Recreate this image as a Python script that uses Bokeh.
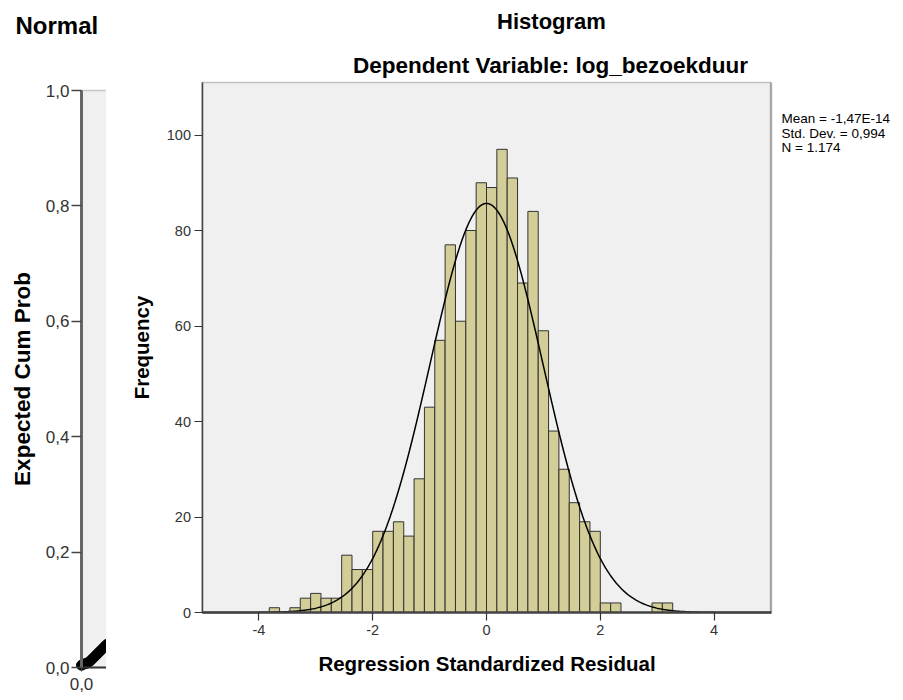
import numpy as np
from bokeh.plotting import figure
from bokeh.models import Range1d, FixedTicker, Label, BoxAnnotation
from bokeh.layouts import row
from bokeh.embed import file_html
from bokeh.resources import INLINE

# ---------------- data ----------------
bin_width = 2 / 11
bin_index = list(range(-21, 18))
frequency = [1, 0, 1, 3, 4, 3, 3, 12, 9, 9, 17, 17, 19, 16, 28, 43, 57, 77,
             61, 80, 90, 89, 97, 91, 69, 84, 59, 38, 30, 23, 19, 17, 2, 2,
             0, 0, 0, 2, 2]
mean_val = -1.47e-14
sd_val = 0.994
n_val = 1174
stats_lines = ["Mean = -1,47E-14", "Std. Dev. = 0,994", "N = 1.174"]
hist_x_ticks = [-4, -2, 0, 2, 4]
hist_x_labels = ["-4", "-2", "0", "2", "4"]
hist_y_ticks = [0, 20, 40, 60, 80, 100]
hist_x_limits = (-5, 5)
hist_y_limits = (0, 111)

pp_expected = [0.000, 0.004, 0.008, 0.012, 0.016, 0.020, 0.024, 0.028, 0.032, 0.036, 0.040, 0.044]
pp_observed = [0.004, 0.006, 0.007, 0.009, 0.012, 0.016, 0.020, 0.024, 0.028, 0.032, 0.036, 0.040]
pp_y_ticks = [0.0, 0.2, 0.4, 0.6, 0.8, 1.0]
pp_y_labels = ["0,0", "0,2", "0,4", "0,6", "0,8", "1,0"]

FONT = "Liberation Sans"

# ---------------- page geometry (pixels) ----------------
W, H = 903, 700
SPLIT = 106                      # where the histogram chart starts
PP_X0, PP_SX = 81, 576           # px of P-P x=0, px per unit
PP_Y0, PP_SY = 667, 577          # px of P-P y=0, px per unit
H_X0, H_SX = 486, 56.9           # px of residual 0, px per unit
H_Y0, H_SY = 612, 4.775          # px of frequency 0, px per unit


def qx(px):
    return (px - PP_X0) / PP_SX


def qy(py):
    return (PP_Y0 - py) / PP_SY


def hx(px):
    return (px - H_X0) / H_SX


def hy(py):
    return (H_Y0 - py) / H_SY


# ---------------- left (partial Normal P-P plot) ----------------
q = figure(width=SPLIT, height=H, x_range=Range1d(qx(0), qx(SPLIT)), y_range=Range1d(qy(H), qy(0)),
           output_backend="svg", toolbar_location=None,
           min_border_left=0, min_border_right=0, min_border_top=0, min_border_bottom=0)
q.background_fill_color = "white"
q.border_fill_color = "white"
q.outline_line_color = None
q.grid.visible = False
q.add_layout(BoxAnnotation(left=0, right=1, bottom=0, top=1, fill_color="#F0F0F0", fill_alpha=1,
                           line_color="#555555", line_width=1.5, level="underlay"))
q.scatter(pp_expected, pp_observed, size=10, color="black")

q.yaxis.fixed_location = 0
q.yaxis.bounds = (0, 1)
q.yaxis.ticker = FixedTicker(ticks=pp_y_ticks)
q.yaxis.major_label_overrides = {t: l for t, l in zip(pp_y_ticks, pp_y_labels)}
q.yaxis.axis_label = "Expected Cum Prob"
q.yaxis.axis_label_text_font = FONT
q.yaxis.axis_label_text_font_style = "bold"
q.yaxis.axis_label_text_font_size = "22.5px"
q.yaxis.axis_label_text_color = "black"
q.yaxis.axis_label_standoff = 8
q.yaxis.major_label_text_font = FONT
q.yaxis.major_label_text_font_size = "17px"
q.yaxis.major_label_text_color = "#333333"
q.yaxis.major_label_standoff = 2
q.yaxis.major_tick_out = 10
q.yaxis.major_tick_in = 0
q.yaxis.minor_tick_line_color = None
q.yaxis.major_tick_line_color = "#444444"
q.yaxis.major_tick_line_width = 1.5
q.yaxis.axis_line_color = "#666666"
q.yaxis.axis_line_width = 3

q.xaxis.fixed_location = 0
q.xaxis.bounds = (0, 1)
q.xaxis.ticker = FixedTicker(ticks=[0])
q.xaxis.major_label_overrides = {0: "0,0"}
q.xaxis.major_label_text_font = FONT
q.xaxis.major_label_text_font_size = "17px"
q.xaxis.major_label_text_color = "#333333"
q.xaxis.major_label_standoff = 6
q.xaxis.major_tick_out = 4
q.xaxis.major_tick_in = 0
q.xaxis.minor_tick_line_color = None
q.xaxis.major_tick_line_color = "#444444"
q.xaxis.axis_line_color = "#333333"
q.xaxis.axis_line_width = 2

q.add_layout(Label(x=qx(15), y=qy(25), text="Normal", text_font=FONT, text_font_style="bold",
                   text_font_size="24px", text_align="left", text_baseline="middle",
                   text_color="black"))

# ---------------- right (histogram) ----------------
p = figure(width=W - SPLIT, height=H, x_range=Range1d(hx(SPLIT), hx(W)), y_range=Range1d(hy(H), hy(0)),
           output_backend="svg", toolbar_location=None,
           min_border_left=0, min_border_right=0, min_border_top=0, min_border_bottom=0)
p.background_fill_color = "white"
p.border_fill_color = "white"
p.outline_line_color = None
p.grid.visible = False
p.add_layout(BoxAnnotation(left=hist_x_limits[0], right=hist_x_limits[1],
                           bottom=hist_y_limits[0], top=hist_y_limits[1],
                           fill_color="#F0F0F0", fill_alpha=1, line_color=None, level="underlay"))

lefts = [i * bin_width for i in bin_index]
rights = [(i + 1) * bin_width for i in bin_index]
p.quad(left=lefts, right=rights, bottom=0, top=frequency,
       fill_color="#D3CE97", line_color="#333333", line_width=1)

xs = np.linspace(hist_x_limits[0], hist_x_limits[1], 500)
ys = n_val * bin_width * np.exp(-0.5 * ((xs - mean_val) / sd_val) ** 2) / (sd_val * np.sqrt(2 * np.pi))
p.line(xs, ys, line_color="black", line_width=1.5)

p.add_layout(BoxAnnotation(left=hist_x_limits[0], right=hist_x_limits[1],
                           bottom=hist_y_limits[0], top=hist_y_limits[1],
                           fill_alpha=0, line_color="#444444", line_width=1.5))
# heavier right edge of the frame, as in the original
p.add_layout(BoxAnnotation(left=hist_x_limits[1], right=hist_x_limits[1],
                           bottom=hist_y_limits[0], top=hist_y_limits[1],
                           fill_alpha=0, line_color="#4a4a4a", line_width=2.5))

p.xaxis.fixed_location = 0
p.xaxis.bounds = hist_x_limits
p.yaxis.fixed_location = hist_x_limits[0]
p.yaxis.bounds = hist_y_limits
p.xaxis.ticker = FixedTicker(ticks=hist_x_ticks)
p.xaxis.major_label_overrides = {t: l for t, l in zip(hist_x_ticks, hist_x_labels)}
p.yaxis.ticker = FixedTicker(ticks=hist_y_ticks)
for ax in (p.xaxis[0], p.yaxis[0]):
    ax.major_label_text_font = FONT
    ax.major_label_text_font_size = "14.5px"
    ax.major_label_text_color = "#333333"
    ax.major_tick_out = 8
    ax.major_tick_in = 0
    ax.minor_tick_line_color = None
    ax.major_tick_line_color = "#333333"
    ax.major_tick_line_width = 1.2
    ax.axis_line_color = "#444444"
    ax.axis_line_width = 1.5
    ax.axis_label_text_font = FONT
    ax.axis_label_text_font_style = "bold"
    ax.axis_label_text_font_size = "20.5px"
    ax.axis_label_text_color = "black"
p.xaxis.axis_label = "Regression Standardized Residual"
p.xaxis.major_label_standoff = 4
p.xaxis.axis_label_standoff = 14
p.xaxis.axis_line_width = 2.5
p.yaxis.axis_label = "Frequency"
p.yaxis.major_label_standoff = 3
p.yaxis.axis_label_standoff = 11

p.add_layout(Label(x=hx(551), y=hy(21), text="Histogram", text_font=FONT, text_font_style="bold",
                   text_font_size="22px", text_align="center", text_baseline="middle",
                   text_color="black"))
p.add_layout(Label(x=hx(550), y=hy(65), text="Dependent Variable: log_bezoekduur", text_font=FONT,
                   text_font_style="bold", text_font_size="22.5px", text_align="center",
                   text_baseline="middle", text_color="black"))
for k, line in enumerate(stats_lines):
    p.add_layout(Label(x=hx(781), y=hy(118 + 14.5 * k), text=line, text_font=FONT,
                       text_font_size="13.5px", text_align="left", text_baseline="middle",
                       text_color="black"))

layout = row(q, p, spacing=0)
open("out.html", "w").write(file_html(layout, INLINE))
